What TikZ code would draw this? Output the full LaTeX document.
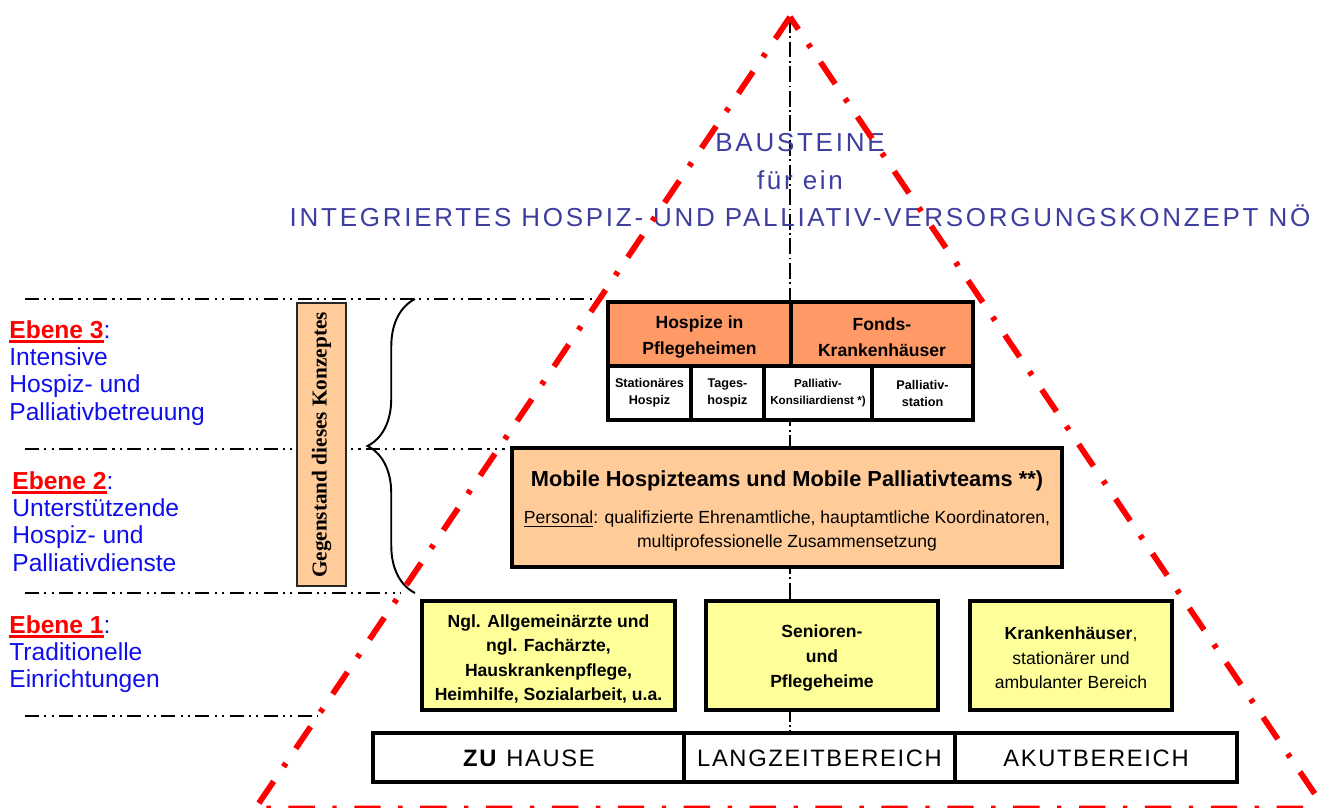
\documentclass[tikz,border=0pt]{standalone}
\usepackage{fontspec}
\setmainfont{Liberation Sans}
\newfontfamily\gegenfont{Liberation Serif}
\usetikzlibrary{decorations.pathreplacing}
\definecolor{titleblue}{RGB}{62,62,160}
\definecolor{lblue}{RGB}{15,15,235}
\definecolor{topfill}{RGB}{255,153,102}
\definecolor{midfill}{RGB}{255,204,153}
\definecolor{yelfill}{RGB}{255,255,153}
\newcommand{\ebene}[1]{\textcolor{red}{\bfseries\setbox0\hbox{#1}\rlap{\rule[-2.6pt]{\wd0}{1.4pt}}\box0}}
\tikzset{
  redline/.style={red, line width=3.3pt, dash pattern=on 15pt off 10pt on 2.5pt off 10pt},
  axisline/.style={line width=0.8pt, dash pattern=on 9pt off 2pt on 1pt off 2pt},
  levelline/.style={line width=1.1pt, dash pattern=on 8pt off 3pt on 1.2pt off 3pt on 1.2pt off 3pt},
  boxline/.style={line width=2.2pt},
  titletext/.style={titleblue, font=\fontsize{14.8}{17}\selectfont\addfontfeature{LetterSpace=10.5}},
  leveltext/.style={lblue, align=left, anchor=north west, inner sep=0pt, font=\fontsize{14}{15.6}\selectfont},
  cellbold/.style={align=center, inner sep=0pt, font=\fontsize{10}{14.5}\selectfont\bfseries},
  cellsmall/.style={align=center, inner sep=0pt, font=\fontsize{7.2}{9.7}\selectfont\bfseries},
  yeltext/.style={align=center, inner sep=0pt, font=\fontsize{10}{14}\selectfont},
  bartext/.style={inner sep=0pt, font=\fontsize{13.5}{15}\selectfont\addfontfeature{LetterSpace=7}}
}
\begin{document}
\begin{tikzpicture}[x=0.02cm, y=-0.02cm]
\useasboundingbox (0,0) rectangle (1319,808);
\coordinate (apex) at (790,17);
\coordinate (baseL) at (255.3,808.5);
\coordinate (baseR) at (1324.7,808.5);
\draw[levelline] (25,299) -- (599,299);
\draw[levelline] (25,449) -- (505,449);
\draw[levelline] (25,593) -- (401,593);
\draw[levelline] (25,716) -- (318,716);
\draw[axisline] (apex) -- (790,733);
\node[titletext] (bau) at (800,143) {BAUSTEINE};
\node[titletext] (fuer) at (800,180) {für ein};
\node[titletext] (konz) at (800,216) {INTEGRIERTES HOSPIZ- UND PALLIATIV-VERSORGUNGSKONZEPT NÖ};
\node[leveltext] (eb3) at (9,320) {\ebene{Ebene 3}:\\Intensive\\Hospiz- und\\Palliativbetreuung};
\node[leveltext] (eb2) at (12,471) {\ebene{Ebene 2}:\\Unterstützende\\Hospiz- und\\Palliativdienste};
\node[leveltext] (eb1) at (9,615) {\ebene{Ebene 1}:\\Traditionelle\\Einrichtungen};
\draw[fill=midfill, draw={black!85}, line width=1.3pt] (297,303) rectangle (346,586);
\node[rotate=90, font=\fontsize{12.1}{14}\selectfont\gegenfont\bfseries] (gegen) at (321.5,445) {Gegenstand dieses Konzeptes};
\draw[line width=1.1pt, decorate, decoration={brace, amplitude=0.95cm}] (415,593) -- (415,299);
\draw[boxline, fill=topfill] (608,302) rectangle (791,366);
\draw[boxline, fill=topfill] (791,302) rectangle (973,366);
\draw[boxline, fill=white] (608,366) rectangle (691,420);
\draw[boxline, fill=white] (691,366) rectangle (764,420);
\draw[boxline, fill=white] (764,366) rectangle (872,420);
\draw[boxline, fill=white] (872,366) rectangle (973,420);
\node[cellbold] (hosppfl) at (699.5,337) {Hospize in\\Pflegeheimen};
\node[cellbold] (fonds) at (882,337) {Fonds-\\Krankenhäuser};
\node[cellsmall] (stat) at (649.5,393) {Stationäres\\Hospiz};
\node[cellsmall] (tages) at (727.5,393) {Tages-\\hospiz};
\node[cellsmall, font=\fontsize{6.6}{9.7}\selectfont\bfseries] (konsil) at (818,393) {Palliativ-\\Konsiliardienst *)};
\node[cellsmall] (palst) at (922.5,393) {Palliativ-\\station};
\draw[boxline, fill=midfill] (512,448) rectangle (1062,567);
\node[align=center, inner sep=0pt, font=\fontsize{10}{13.7}\selectfont] (mobil) at (787,511) {{\fontsize{12.4}{15}\selectfont\bfseries Mobile Hospizteams und Mobile Palliativteams **)}\\[7pt]
  \underline{Personal}: qualifizierte Ehrenamtliche, hauptamtliche Koordinatoren,\\
  multiprofessionelle Zusammensetzung};
\draw[boxline, fill=yelfill] (422,601) rectangle (675,710);
\draw[boxline, fill=yelfill] (706,601) rectangle (938,710);
\draw[boxline, fill=yelfill] (970,601) rectangle (1172,710);
\node[yeltext, font=\fontsize{10}{14}\selectfont\bfseries] (aerzte) at (548.5,659) {Ngl. Allgemeinärzte und\\ngl. Fachärzte,\\Hauskrankenpflege,\\Heimhilfe, Sozialarbeit, u.a.};
\node[yeltext, font=\fontsize{10}{14}\selectfont\bfseries] (senior) at (822,658) {Senioren-\\und\\Pflegeheime};
\node[yeltext] (krank) at (1071,658) {\textbf{Krankenhäuser},\\stationärer und\\ambulanter Bereich};
\draw[boxline] (373,733) rectangle (684,782);
\draw[boxline] (684,733) rectangle (955,782);
\draw[boxline] (955,733) rectangle (1237,782);
\node[bartext] (hause) at (529,758) {\textbf{ZU} HAUSE};
\node[bartext] (langz) at (819.5,758) {LANGZEITBEREICH};
\node[bartext] (akut) at (1096,758) {AKUTBEREICH};
\draw[redline, line join=miter] (apex) -- (baseL) -- (baseR) -- cycle;
\end{tikzpicture}
\end{document}
